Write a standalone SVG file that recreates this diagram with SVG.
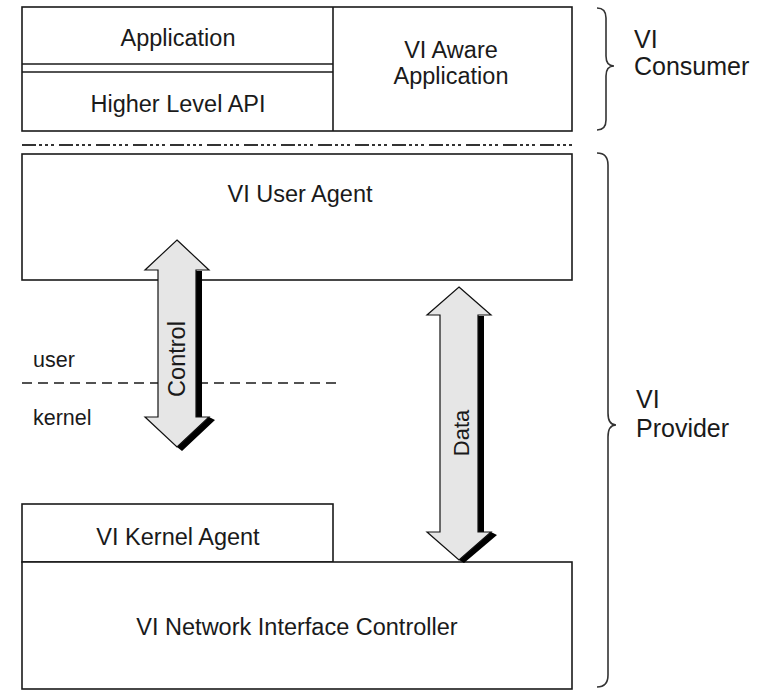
<svg xmlns="http://www.w3.org/2000/svg" width="765" height="690" viewBox="0 0 765 690">
  <defs>
    <style>
      .box { fill: #ffffff; stroke: #1a1a1a; stroke-width: 1.6; }
      .ln { stroke: #1a1a1a; stroke-width: 1.6; fill: none; }
      .t { font-family: "Liberation Sans", Arial, sans-serif; font-size: 23.5px; fill: #1a1a1a; text-anchor: middle; }
      .side { font-family: "Liberation Sans", Arial, sans-serif; font-size: 25px; fill: #1a1a1a; }
      .small { font-family: "Liberation Sans", Arial, sans-serif; font-size: 21.5px; fill: #1a1a1a; }
      .brace { fill: none; stroke: #333333; stroke-width: 1.6; }
      .arrow { fill: #e6e6e6; stroke: #111111; stroke-width: 1.2; stroke-linejoin: miter; }
      .shadow { fill: #000000; }
    </style>
  </defs>
  <rect x="0" y="0" width="765" height="690" fill="#ffffff"/>

  <g id="vi-consumer-frame">
    <rect class="box" x="22" y="7" width="550" height="124"/>
  </g>
  <g id="application">
    <line class="ln" x1="22" y1="64" x2="333" y2="64"/>
    <text class="t" x="178" y="46">Application</text>
  </g>
  <g id="higher-level-api">
    <line class="ln" x1="22" y1="72" x2="333" y2="72"/>
    <text class="t" x="178" y="112">Higher Level API</text>
  </g>
  <g id="vi-aware-application">
    <line class="ln" x1="333" y1="7" x2="333" y2="131"/>
    <text class="t" x="451" y="58">VI Aware</text>
    <text class="t" x="451" y="84">Application</text>
  </g>

  <g id="separator">
    <line x1="22" y1="145" x2="572" y2="145" stroke="#333333" stroke-width="2" stroke-dasharray="14 3 3 3 3 3 3 5"/>
  </g>

  <g id="vi-user-agent">
    <rect class="box" x="22" y="154" width="550" height="126"/>
    <text class="t" x="300" y="202">VI User Agent</text>
  </g>

  <g id="user-kernel-boundary">
    <line x1="22" y1="383" x2="340" y2="383" stroke="#1a1a1a" stroke-width="1.5" stroke-dasharray="10 6"/>
    <text class="small" x="33" y="367">user</text>
    <text class="small" x="33" y="425">kernel</text>
  </g>

  <g id="vi-kernel-agent">
    <rect class="box" x="22" y="504" width="311" height="58"/>
    <text class="t" x="178" y="545">VI Kernel Agent</text>
  </g>

  <g id="vi-nic">
    <rect class="box" x="22" y="562" width="550" height="127"/>
    <text class="t" x="297" y="635">VI Network Interface Controller</text>
  </g>

  <g id="connectors">
    <g id="control-arrow">
      <path class="shadow" d="M196,271 L202,271 L202,417 L209,417 L215,420 L182,451 L177,447 Z"/>
      <path class="arrow" d="M177,240 L209,270 L196,270 L196,417 L209,417 L177,447 L145,417 L158,417 L158,270 L145,270 Z"/>
      <text class="t" transform="translate(185,359) rotate(-90)" x="0" y="0">Control</text>
    </g>
    <g id="data-arrow">
      <path class="shadow" d="M478,316 L484,316 L484,532 L491,532 L497,535 L464,563 L459,560 Z"/>
      <path class="arrow" d="M459,287 L491,315 L478,315 L478,532 L491,532 L459,560 L427,532 L440,532 L440,315 L427,315 Z"/>
      <text class="t" style="font-size:22px" transform="translate(469,433) rotate(-90)" x="0" y="0">Data</text>
    </g>
  </g>

  <g id="vi-consumer-label">
    <path class="brace" d="M597,8 Q606,8 606,18 L606,56 Q606,66 614,66 Q606,66 606,76 L606,120 Q606,130 597,130"/>
    <text class="side" x="634" y="48">VI</text>
    <text class="side" x="634" y="75">Consumer</text>
  </g>

  <g id="vi-provider-label">
    <path class="brace" d="M597,153 Q608,153 608,165 L608,413 Q608,425 616,425 Q608,425 608,437 L608,675 Q608,687 597,687"/>
    <text class="side" x="636" y="408">VI</text>
    <text class="side" x="636" y="437">Provider</text>
  </g>
</svg>
